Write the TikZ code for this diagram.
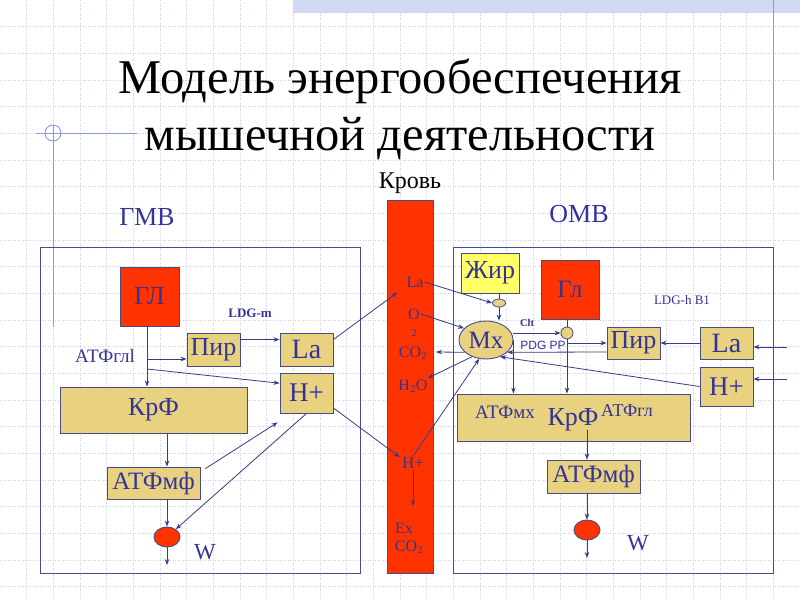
\documentclass[tikz,border=0pt]{standalone}
\usepackage{fontspec}
\setmainfont{Liberation Serif}
\newfontfamily\arialf{Liberation Sans}
\usetikzlibrary{arrows.meta,shapes.geometric}
\definecolor{navy}{HTML}{333399}
\definecolor{bcol}{HTML}{4A4A88}
\definecolor{acol}{HTML}{3A3A88}
\definecolor{khaki}{HTML}{E8D27F}
\definecolor{redf}{HTML}{FF3300}
\definecolor{yel}{HTML}{FFFF66}
\definecolor{gridc}{HTML}{C8D0E6}
\definecolor{decob}{HTML}{8899DD}
\definecolor{bandc}{HTML}{CFDAF2}
\tikzset{
  kbox/.style={draw=bcol,fill=khaki,line width=0.9pt,inner sep=0pt,rectangle,text=navy},
  rbox/.style={draw=bcol,fill=redf,line width=0.9pt,inner sep=0pt,rectangle,text=navy},
  frame/.style={draw=bcol,line width=0.9pt},
  arr/.style={draw=acol,line width=0.8pt,-{Stealth[length=6pt,width=4.5pt]}},
  ln/.style={draw=acol,line width=0.8pt},
  lbl/.style={text=navy,inner sep=0pt},
  bl/.style={text=navy,inner sep=1pt,font=\fontsize{16}{16}\selectfont},
}
\begin{document}
\begin{tikzpicture}[x=1pt,y=-1pt]
\useasboundingbox (0,0) rectangle (800,600);
\fill[white] (0,0) rectangle (800,600);
% background grid
\foreach \i in {1,...,29} \draw[gridc,line width=0.5pt,dotted] ({\i*26.667},0) -- ({\i*26.667},600);
\foreach \j in {1,...,22} \draw[gridc,line width=0.5pt,dotted] (0,{\j*26.667}) -- (800,{\j*26.667});
% decorations
\fill[bandc] (293,0) rectangle (800,13);
\draw[decob,line width=1pt] (773,0) -- (773,180);
\draw[decob,line width=0.9pt] (36,133) -- (137,133);
\draw[decob,line width=0.9pt] (53,125) -- (53,327);
\draw[decob,line width=0.9pt] (53,133) circle (8);
% title
\node[anchor=base,inner sep=0pt,font=\fontsize{48.5}{48.5}\selectfont] (t1) at (400,93) {Модель энергообеспечения};
\node[anchor=base,inner sep=0pt,font=\fontsize{48.5}{48.5}\selectfont] (t2) at (400,150) {мышечной деятельности};
\node[inner sep=0pt,font=\fontsize{24}{24}\selectfont] (krov) at (410,183) {Кровь};
\node[lbl,font=\fontsize{26}{26}\selectfont] (gmv) at (147,217) {ГМВ};
\node[lbl,font=\fontsize{26}{26}\selectfont] (omv) at (579,214) {ОМВ};
% frames
\node[frame,rectangle,minimum width=320pt,minimum height=326pt,inner sep=0pt] (boxL) at (200,410) {};
\node[frame,rectangle,minimum width=320pt,minimum height=326pt,inner sep=0pt] (boxR) at (613,410) {};
% blood column
\node[rbox,minimum width=46pt,minimum height=373pt] (blood) at (410,386.5) {};
\node[bl] (bLa) at (415,282) {La};
\node[bl] (bO) at (414,314) {O};
\node[bl,font=\fontsize{10}{10}\selectfont] (bO2) at (414,333) {2};
\node[bl] (bCO) at (413,353) {CO$_2$};
\node[bl] (bHO) at (413,386) {H$_2$O};
\node[bl,font=\fontsize{17}{17}\selectfont] (bH) at (413,463) {H+};
\node[bl] (bEx) at (404,528) {Ex};
\node[bl] (bCO2) at (409,547) {CO$_2$};
\coordinate (bExtop) at (413,506);
\draw[arr] (bH.south) -- (bExtop);
% ---------- left part
\node[rbox,minimum width=59pt,minimum height=59pt,font=\fontsize{26}{26}\selectfont] (gl) at (149.5,296.5) {ГЛ};
\node[lbl,font=\fontsize{13}{13}\selectfont\bfseries] (ldgm) at (250,313) {LDG-m};
\node[kbox,minimum width=53pt,minimum height=33pt,font=\fontsize{26}{26}\selectfont] (pirL) at (213.5,349.5) {Пир};
\node[kbox,minimum width=53pt,minimum height=33pt,font=\fontsize{28}{28}\selectfont] (laL) at (306.5,349.5) {La};
\node[kbox,minimum width=53pt,minimum height=40pt,font=\fontsize{27}{27}\selectfont] (hL) at (306.5,393) {H+};
\node[lbl,font=\fontsize{19}{19}\selectfont] (atfgl) at (105,356) {АТФглl};
\node[kbox,minimum width=187pt,minimum height=46pt,font=\fontsize{26}{26}\selectfont] (krfL) at (153.5,410) {КрФ};
\node[kbox,minimum width=93pt,minimum height=32pt,font=\fontsize{25}{25}\selectfont] (atfL) at (153.5,483) {АТФмф};
\node[ellipse,draw=bcol,fill=redf,line width=0.9pt,minimum width=26pt,minimum height=20pt,inner sep=0pt] (eL) at (167,537) {};
\node[lbl,font=\fontsize{23}{23}\selectfont] (wL) at (205,552) {W};
\coordinate (outL) at (167,565);
\coordinate (b1) at (147,359);
\coordinate (b2) at (147,369);
\draw[arr] ([xshift=-2.5pt]gl.south) -- ([xshift=-2.5pt]gl.south |- krfL.north);
\draw[arr] (b1) -- (b1 -| pirL.west);
\draw[arr] (b2) -- (hL.160);
\draw[arr] ([yshift=10pt]pirL.east) -- ([yshift=10pt]laL.west);
\draw[arr] (krfL.south -| eL) -- (atfL.north -| eL);
\draw[arr] ([xshift=5pt,yshift=-2pt]atfL.north east) -- ([xshift=-2pt,yshift=-9pt]hL.south west);
\draw[arr] (hL.south) -- (eL);
\draw[arr] (atfL.south -| eL) -- (eL.north);
\draw[arr] (eL.south) -- (outL);
\draw[arr] ([yshift=10pt]laL.east) -- ([xshift=-8pt,yshift=-4pt]bLa.south west);
\draw[arr] ([yshift=-15pt]hL.east) -- ([xshift=-1pt,yshift=-1pt]bH.north west);
% ---------- right part
\node[draw=bcol,fill=yel,line width=0.9pt,inner sep=0pt,minimum width=58pt,minimum height=40pt,text=navy,font=\fontsize{26}{26}\selectfont] (zhir) at (490,273) {Жир};
\node[ellipse,draw=bcol,fill=khaki,line width=0.8pt,minimum width=13pt,minimum height=8pt,inner sep=0pt] (eZ) at (499,303) {};
\node[rbox,minimum width=58pt,minimum height=59pt,font=\fontsize{25}{25}\selectfont] (gl2) at (570,289.5) {Гл};
\node[circle,draw=bcol,fill=khaki,line width=0.8pt,minimum size=12pt,inner sep=0pt] (cc) at (567,333) {};
\node[ellipse,draw=bcol,fill=khaki,line width=0.9pt,minimum width=54pt,minimum height=38pt,inner sep=0pt,text=navy,font=\fontsize{25}{25}\selectfont] (mx) at (486,340) {Мх};
\node[lbl,font=\fontsize{10.5}{10.5}\selectfont\bfseries] (clt) at (527,323) {Clt};
\node[lbl,font=\arialf\fontsize{12}{12}\selectfont] (pdg) at (543,345) {PDG PP};
\node[lbl,font=\fontsize{13}{13}\selectfont] (ldgh) at (682,300) {LDG-h B1};
\node[kbox,minimum width=53pt,minimum height=32pt,font=\fontsize{26}{26}\selectfont] (pirR) at (633.5,343) {Пир};
\node[kbox,minimum width=53pt,minimum height=32pt,font=\fontsize{28}{28}\selectfont] (laR) at (726.5,343) {La};
\node[kbox,minimum width=53pt,minimum height=39pt,font=\fontsize{27}{27}\selectfont] (hR) at (726.5,386.5) {H+};
\node[kbox,minimum width=233pt,minimum height=47pt] (krfR) at (573.5,417.5) {};
\node[lbl,font=\fontsize{19}{19}\selectfont] (atfmx) at (505,412) {АТФмх};
\node[lbl,font=\fontsize{18}{18}\selectfont] (atfgl2) at (627,411) {АТФгл};
\node[kbox,minimum width=93pt,minimum height=33pt,font=\fontsize{25}{25}\selectfont] (atfR) at (593.5,476.5) {АТФмф};
\node[ellipse,draw=bcol,fill=redf,line width=0.9pt,minimum width=26pt,minimum height=20pt,inner sep=0pt] (eR) at (587,530) {};
\node[lbl,font=\fontsize{23}{23}\selectfont] (wR) at (638,543) {W};
\coordinate (outR) at (587,558);
\coordinate (inLa) at (787,347);
\coordinate (inH) at (787,379);
\coordinate (toCO) at (436,352);
\coordinate (toHO) at (428,378);
% right connectors
\draw[ln] ([xshift=9pt]zhir.south) -- (eZ.north);
\draw[arr] (eZ.south) -- (eZ.south |- mx.north);
\draw[ln] (cc.north |- gl2.south) -- (cc.north);
\draw[arr] (mx.east |- cc.west) -- (cc.west);
\draw[arr] (cc.south) -- (cc.south |- krfR.north);
\draw[arr] (cc.south |- pirR.west) -- (pirR.west);
\draw[arr] (laR.west) -- (pirR.east);
\draw[arr] (inLa) -- (inLa -| laR.east);
\draw[arr] (inH) -- (inH -| hR.east);
\draw[arr] ([yshift=-9pt]pirR.west) -- (mx.-30);
\draw[arr] (mx.-150) -- (toCO);
\draw[arr] (hR.west) -- (mx.-50);
\draw[arr] (mx.-130) -- (toHO);
\draw[arr] (bO.east) -- (mx.152);
\draw[arr] (bLa.east) -- (eZ.west);
\draw[arr] (bH.north) -- (mx.-110);
\draw[arr] (mx.east) -- (mx.east |- krfR.north);
\node[lbl,font=\fontsize{26}{26}\selectfont] (krfRt) at (573,420) {КрФ};
\draw[arr] ([yshift=-12pt]krfR.center -| eR) -- (atfR.north -| eR);
\draw[arr] (atfR.south -| eR) -- (eR.north);
\draw[arr] (eR.south) -- (outR);
\end{tikzpicture}
\end{document}
